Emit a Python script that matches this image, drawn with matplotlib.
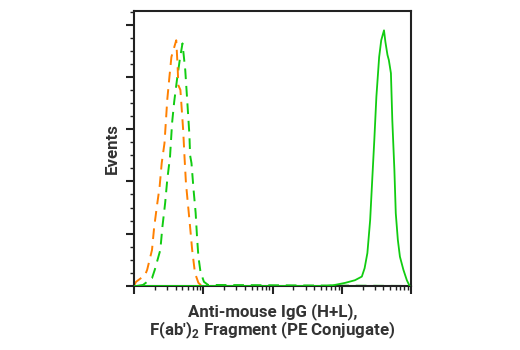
import numpy as np
import matplotlib
matplotlib.use("Agg")
import matplotlib.pyplot as plt
from matplotlib.ticker import MultipleLocator, LogLocator, NullFormatter

# x values in log10 units, y in arbitrary event units
iso_orange_x = [1.0, 1.03, 1.10, 1.16, 1.19, 1.26, 1.29, 1.33, 1.37, 1.40, 1.44, 1.46, 1.48, 1.51,
                1.54, 1.61, 1.63, 1.64, 1.67, 1.69, 1.71, 1.73, 1.75, 1.78, 1.81, 1.84, 1.88,
                1.93, 1.98, 5.0]
iso_orange_y = [0.01, 0.08, 0.15, 0.21, 0.31, 0.69, 1.11, 1.52, 1.90, 2.35, 2.73, 3.14, 3.56, 3.98,
                4.38, 4.70, 4.19, 3.84, 3.75, 3.37, 2.98, 2.45, 1.97, 1.55, 1.13, 0.69, 0.25,
                0.06, 0.0, 0.0]

iso_green_x = [1.04, 1.13, 1.26, 1.30, 1.38, 1.41, 1.45, 1.48, 1.52, 1.55, 1.58, 1.62, 1.66, 1.70,
               1.74, 1.76, 1.78, 1.80, 1.81, 1.83, 1.86, 1.89, 1.91, 1.93, 1.96, 2.01, 2.07, 5.0]
iso_green_y = [0.0, 0.02, 0.15, 0.31, 0.69, 1.13, 1.59, 2.03, 2.47, 3.12, 3.52, 3.94, 4.32, 4.64,
               4.13, 3.72, 3.31, 2.89, 2.50, 2.35, 1.84, 1.40, 0.94, 0.56, 0.27, 0.08, 0.02, 0.0]

stained_x = [1.0, 3.78, 3.90, 4.05, 4.19, 4.29, 4.33, 4.37, 4.41, 4.44, 4.47, 4.50, 4.54, 4.57,
             4.61, 4.63, 4.66, 4.68, 4.71, 4.73, 4.76, 4.78, 4.81, 4.84, 4.89, 4.94, 4.98]
stained_y = [0.0, 0.0, 0.02, 0.06, 0.11, 0.18, 0.34, 0.63, 1.26, 2.03, 2.79, 3.62, 4.38, 4.70,
             4.89, 4.67, 4.42, 4.32, 4.07, 3.17, 2.22, 1.39, 0.88, 0.56, 0.31, 0.11, 0.0]

orange = "#ff8000"
green = "#11cc11"

fig = plt.figure(figsize=(5.2, 3.5), dpi=100)
ax = fig.add_axes([0.2577, 0.1829, 0.5327, 0.7857])

ax.plot(10 ** np.array(stained_x), stained_y, color=green, lw=1.3, zorder=3)
ax.plot(10 ** np.array(iso_green_x), iso_green_y, color=green, lw=1.4, ls=(0, (5.5, 3.5)), zorder=2)
ax.plot(10 ** np.array(iso_orange_x), iso_orange_y, color=orange, lw=1.4, ls=(0, (5.5, 3.5)), zorder=2)

ax.set_xscale("log")
ax.set_xlim(1e1, 1e5)
ax.set_ylim(0, 5.26)

ax.xaxis.set_major_locator(LogLocator(base=10, numticks=10))
ax.xaxis.set_minor_locator(LogLocator(base=10, subs=np.arange(2, 10), numticks=20))
ax.xaxis.set_major_formatter(NullFormatter())
ax.xaxis.set_minor_formatter(NullFormatter())
ax.yaxis.set_major_locator(MultipleLocator(1))
ax.yaxis.set_minor_locator(MultipleLocator(0.25))
ax.yaxis.set_major_formatter(NullFormatter())

for s in ax.spines.values():
    s.set_linewidth(1.5)
    s.set_color("#222222")
ax.tick_params(which="major", length=6, width=1.5, color="#222222", direction="out")
ax.tick_params(which="minor", length=3, width=1.0, color="#222222", direction="out")

lab = dict(fontsize=12.2, fontweight="bold", color="#333333", family=["Roboto", "DejaVu Sans"])
ax.set_ylabel("Events", labelpad=1, **lab)
ax.set_xlabel("Anti-mouse IgG (H+L),\nF(ab')$_\\mathregular{2}$ Fragment (PE Conjugate)",
              labelpad=3, linespacing=0.95, **lab)

fig.savefig("out.png", dpi=100)
